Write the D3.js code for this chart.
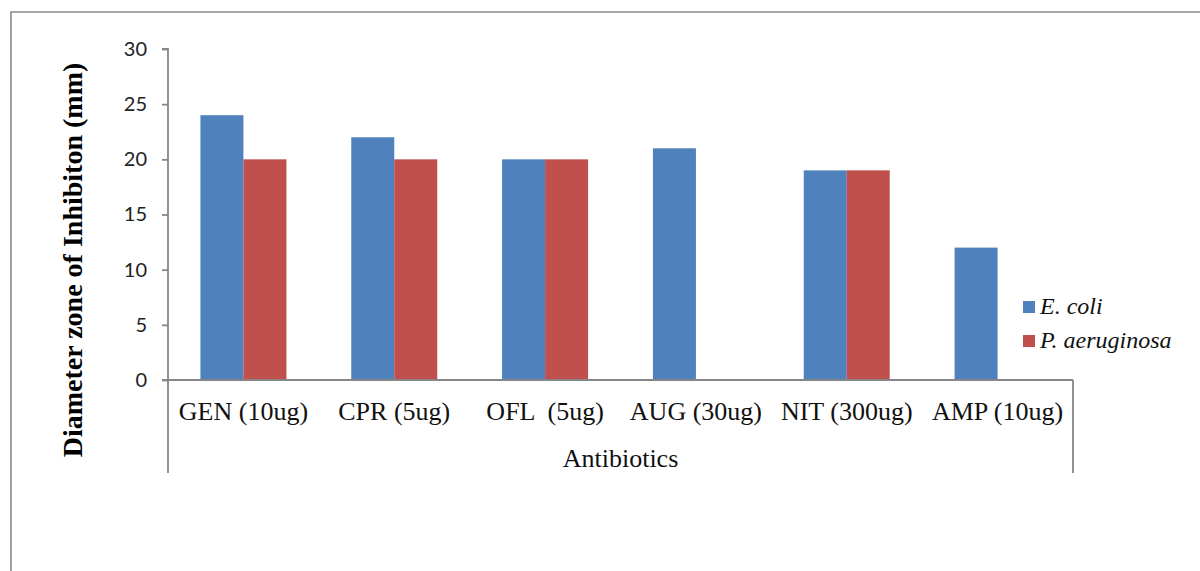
<!DOCTYPE html>
<html>
<head>
<meta charset="utf-8">
<script src="https://cdn.jsdelivr.net/npm/d3@7/dist/d3.min.js"></script>
<style>
  html, body { margin: 0; padding: 0; background: #fff; }
  svg { display: block; }
</style>
</head>
<body>
<svg id="chart" width="1200" height="571"></svg>
<script>
// Antibiotic discs tested
const categories = ["GEN (10ug)", "CPR (5ug)", "OFL  (5ug)", "AUG (30ug)", "NIT (300ug)", "AMP (10ug)"];
// Organisms
const seriesNames = ["E. coli", "P. aeruginosa"];
// Zone of inhibition diameters (mm)
const eColi = [24, 22, 20, 21, 19, 12];
const pAeruginosa = [20, 20, 20, 0, 19, 0];
const seriesColors = ["#4F81BD", "#C0504D"];
const yTicks = [0, 5, 10, 15, 20, 25, 30];

const seriesValues = [eColi, pAeruginosa];
const rows = categories.map((c, i) => ({
  category: c,
  values: seriesNames.map((s, j) => ({ series: s, value: seriesValues[j][i], color: seriesColors[j] }))
}));

const svg = d3.select("#chart");
const axisColor = "#868686";

// Outer frame (top and left edges)
svg.append("path")
  .attr("d", "M11,571 L11,12 L1200,12")
  .attr("fill", "none")
  .attr("stroke", "#8a8a8a")
  .attr("stroke-width", 1.6);

const plotLeft = 168, plotRight = 1073, plotTop = 49, plotBottom = 380;

const y = d3.scaleLinear().domain([0, 30]).range([plotBottom, plotTop]);
const x0 = d3.scaleBand().domain(categories).range([plotLeft, plotRight]).padding(0);
const groupWidth = 86;
const x1 = d3.scaleBand().domain(seriesNames)
  .range([(x0.bandwidth() - groupWidth) / 2, (x0.bandwidth() + groupWidth) / 2])
  .padding(0);

// Bars
const groups = svg.append("g").selectAll("g")
  .data(rows)
  .join("g")
  .attr("transform", d => `translate(${x0(d.category)},0)`);

groups.selectAll("rect")
  .data(d => d.values.filter(v => v.value > 0))
  .join("rect")
  .attr("x", d => x1(d.series))
  .attr("width", x1.bandwidth())
  .attr("y", d => y(d.value))
  .attr("height", d => y(0) - y(d.value))
  .attr("fill", d => d.color);

// Y axis
const yAxis = svg.append("g")
  .attr("transform", `translate(${plotLeft},0)`)
  .call(d3.axisLeft(y).tickValues(yTicks).tickSize(6).tickPadding(15));
yAxis.select(".domain").attr("stroke", axisColor).attr("stroke-width", 1.8)
  .attr("d", `M-6,${plotTop}H0V${plotBottom}`);
yAxis.selectAll(".tick line").attr("stroke", axisColor).attr("stroke-width", 1.8);
yAxis.selectAll(".tick text")
  .attr("fill", "#222")
  .style("font-family", "Lato, 'Open Sans', sans-serif")
  .style("font-size", "20px");

// X axis baseline and category labels
const xAxis = svg.append("g")
  .attr("transform", `translate(0,${plotBottom})`)
  .call(d3.axisBottom(x0).tickSize(0).tickPadding(0));
xAxis.select(".domain").attr("stroke", axisColor).attr("stroke-width", 1.8)
  .attr("d", `M${plotLeft - 6},0H${plotRight}`);
xAxis.selectAll(".tick text")
  .attr("dy", null)
  .attr("y", 40)
  .attr("fill", "#111")
  .style("font-family", "'Liberation Serif', 'Times New Roman', serif")
  .style("font-size", "26px")
  .style("white-space", "pre");

// Category axis end dividers
svg.append("g").selectAll("line")
  .data([plotLeft, plotRight])
  .join("line")
  .attr("x1", d => d).attr("x2", d => d)
  .attr("y1", plotBottom).attr("y2", 473)
  .attr("stroke", axisColor)
  .attr("stroke-width", 1.8);

// X axis title
svg.append("text")
  .attr("x", (plotLeft + plotRight) / 2)
  .attr("y", 467)
  .attr("text-anchor", "middle")
  .attr("fill", "#111")
  .style("font-family", "'Liberation Serif', 'Times New Roman', serif")
  .style("font-size", "26px")
  .text("Antibiotics");

// Y axis title
svg.append("text")
  .attr("transform", "translate(82,260) rotate(-90)")
  .attr("text-anchor", "middle")
  .attr("fill", "#000")
  .style("font-family", "'Liberation Serif', 'Times New Roman', serif")
  .style("font-size", "28px")
  .style("font-weight", "bold")
  .text("Diameter zone of Inhibiton (mm)");

// Legend
const legend = svg.append("g").selectAll("g")
  .data(seriesNames)
  .join("g")
  .attr("transform", (d, i) => `translate(1023,${301 + i * 34})`);
legend.append("rect")
  .attr("width", 12).attr("height", 12)
  .attr("fill", (d, i) => seriesColors[i]);
legend.append("text")
  .attr("x", 17)
  .attr("y", 13)
  .attr("fill", "#111")
  .style("font-family", "'Liberation Serif', 'Times New Roman', serif")
  .style("font-size", "24px")
  .style("font-style", "italic")
  .text(d => d);
</script>
</body>
</html>
